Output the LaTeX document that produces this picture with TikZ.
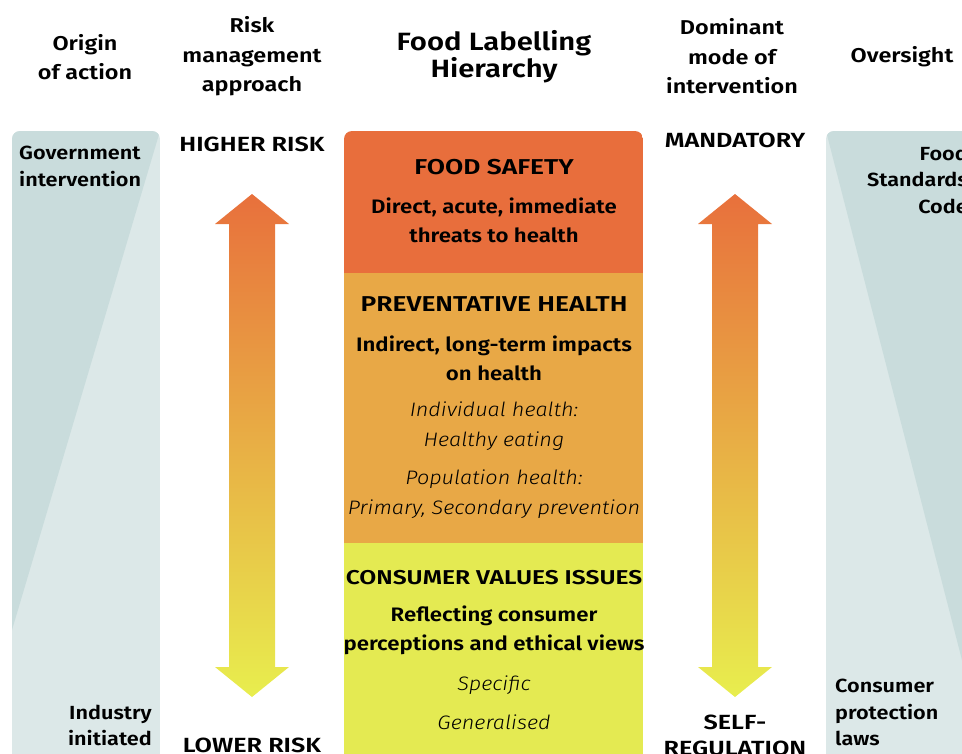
\documentclass[tikz,border=0pt]{standalone}
\usepackage{fontspec}
\setmainfont{Fira Sans}
\usetikzlibrary{positioning}

% wide semibold variants of Fira Sans
\newcommand\makefam[2]{\IfFontExistsTF{Fira Sans SemiBold}
  {\newfontfamily#1{Fira Sans}[FakeStretch=#2, BoldFont={Fira Sans SemiBold}]}
  {\newfontfamily#1{Fira Sans}[FakeStretch=#2]}}
\makefam\fhdr{1.17}
\makefam\fcaps{1.23}
\makefam\fdesc{1.14}
\IfFontExistsTF{Fira Sans Light Italic}
  {\newfontfamily\fnote{Fira Sans Light Italic}[FakeStretch=1.11]}
  {\newfontfamily\fnote{Fira Sans}[FakeStretch=1.08, UprightFont=*, UprightFeatures={FakeSlant=0.2}]}

\definecolor{safety}{HTML}{E86E3C}
\definecolor{prevent}{HTML}{E8A846}
\definecolor{values}{HTML}{E4EA52}
\definecolor{paneldark}{HTML}{C9DCDC}
\definecolor{panellight}{HTML}{DCE8E8}
\definecolor{arrowtop}{HTML}{E8703C}
\definecolor{arrowmid}{HTML}{E9B048}
\definecolor{arrowbot}{HTML}{E8EE4E}

\begin{document}
\begin{tikzpicture}[x=1pt,y=-1pt,
  every node/.style={inner sep=0pt},
  hdr/.style={font=\fhdr\fontsize{20}{29.5}\selectfont\bfseries, align=center},
  ttl/.style={font=\fhdr\fontsize{25}{27}\selectfont\bfseries, align=center},
  capt/.style={font=\fcaps\fontsize{20.5}{26}\selectfont\bfseries, align=center},
  side/.style={font=\fdesc\fontsize{19}{26.5}\selectfont\bfseries},
  sect/.style={font=\fcaps\fontsize{21.5}{29}\selectfont\bfseries, align=center},
  desc/.style={font=\fdesc\fontsize{19.5}{29}\selectfont\bfseries, align=center},
  note/.style={font=\fnote\fontsize{19.5}{30}\selectfont, align=center},
  band/.style={top color=arrowtop, middle color=arrowmid, bottom color=arrowbot}]
\useasboundingbox (0,0) rectangle (962,753);
\clip (0,0) rectangle (962,753);

% side panels
\begin{scope}
\clip [rounded corners=8pt] (12,131) rectangle (160,800);
\fill [panellight] (12,131) rectangle (160,800);
\fill [paneldark] (12,131) -- (160,131) -- (12,630) -- cycle;
\end{scope}
\begin{scope}
\clip [rounded corners=8pt] (826,131) rectangle (1000,800);
\fill [panellight] (826,131) rectangle (1000,800);
\fill [paneldark] (826,131) -- (1000,131) -- (1000,808) -- cycle;
\end{scope}

% hierarchy box
\begin{scope}
\clip [rounded corners=8pt] (344,131) rectangle (643,800);
\fill [safety] (344,131) rectangle (643,273);
\fill [prevent] (344,273) rectangle (643,543);
\fill [values] (344,543) rectangle (643,800);
\end{scope}

% two-way arrows
\shade [band] (252,194) -- (289,224) -- (275,224) -- (275,667) -- (289,667)
  -- (252,697) -- (215,667) -- (229,667) -- (229,224) -- (215,224) -- cycle;
\shade [band] (735,194) -- (772,224) -- (758,224) -- (758,667) -- (772,667)
  -- (735,697) -- (698,667) -- (712,667) -- (712,224) -- (698,224) -- cycle;

% column headings
\node [hdr] (origin) at (85,57) {Origin\\of action};
\node [hdr] (riskhdr) at (252,56.5) {Risk\\management\\approach};
\node [ttl] (title) at (494,56.5) {Food Labelling\\Hierarchy};
\node [hdr] (modehdr) at (732,56.5) {Dominant\\mode of\\intervention};
\node [hdr] (oversight) at (902,57) {Oversight};

% arrow ends
\node [capt] (higher) at (252,144) {HIGHER RISK};
\node [capt] (lower) at (252,745) {LOWER RISK};
\node [capt] (mandatory) at (735,140) {MANDATORY};
\node [capt] (selfreg) at (735,735.5) {SELF-\\REGULATION};

% panel texts
\node [side, anchor=west, align=left] (govt) at (19,166.5) {Government\\intervention};
\node [side, anchor=east, align=right] (industry) at (152,725.5) {Industry\\initiated};
\node [side, anchor=east, align=right] (fsc) at (968,179.5) {Food\\Standards\\Code};
\node [side, anchor=west, align=left] (cpl) at (835,712.5) {Consumer\\protection\\laws};

% hierarchy texts
\node [sect] (safetyhd) at (494,167) {FOOD SAFETY};
\node [desc] (safetytx) at (494,220.5) {Direct, acute, immediate\\threats to health};
\node [sect] (preventhd) at (494,304) {PREVENTATIVE HEALTH};
\node [desc] (preventtx) at (494,358.5) {Indirect, long-term impacts\\on health};
\node [note] (individual) at (494,426) {Individual health:\\Healthy eating};
\node [note] (population) at (494,494) {Population health:\\Primary, Secondary prevention};
\node [sect, font=\fcaps\fontsize{20}{29}\selectfont\bfseries] (valueshd) at (494,578) {CONSUMER VALUES ISSUES};
\node [desc] (valuestx) at (494,630.5) {Reflecting consumer\\perceptions and ethical views};
\node [note] (specific) at (494,685) {Specific};
\node [note] (general) at (494,722) {Generalised};
\end{tikzpicture}
\end{document}
